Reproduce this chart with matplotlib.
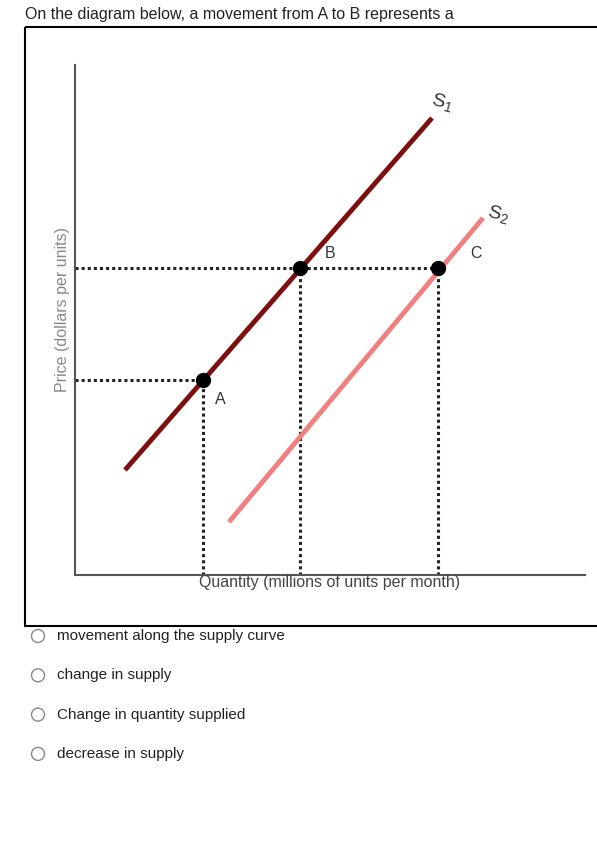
import matplotlib.pyplot as plt
from matplotlib.patches import Rectangle, Circle

plt.rcParams["font.family"] = ["Liberation Sans", "DejaVu Sans"]
plt.rcParams["mathtext.fontset"] = "custom"
plt.rcParams["mathtext.rm"] = "Liberation Sans"
plt.rcParams["mathtext.it"] = "Liberation Sans"

# diagram data (arbitrary quantity / price units)
s1_q = [50, 357]
s1_p = [105, 457]
s2_q = [154, 408]
s2_p = [53, 357]
points = {"A": (128, 195), "B": (225, 307), "C": (363, 307)}
question = "On the diagram below, a movement from A to B represents a"
options = ["movement along the supply curve", "change in supply",
           "Change in quantity supplied", "decrease in supply"]

W, H = 597, 842
fig = plt.figure(figsize=(W / 100, H / 100), dpi=100)

# page overlay in pixel coordinates
page = fig.add_axes([0, 0, 1, 1])
page.set_xlim(0, W)
page.set_ylim(H, 0)
page.axis("off")
page.text(25, 14, question, fontsize=11.5, va="center", ha="left", color="#222222")
page.add_patch(Rectangle((25, 27), 580, 599, fill=False, lw=1.5, ec="black"))
for i, opt in enumerate(options):
    y = 636 + i * 39.3
    page.add_patch(Circle((38, y), 6.5, fill=False, ec="#888888", lw=1))
    page.text(57, y, opt, fontsize=11, va="center", ha="left", color="#222222")

ax = fig.add_axes([75 / W, (H - 575) / H, 510 / W, 510 / H])
ax.set_xlim(0, 510)
ax.set_ylim(0, 510)
ax.set_xticks([])
ax.set_yticks([])
for side in ["top", "right"]:
    ax.spines[side].set_visible(False)
for side in ["left", "bottom"]:
    ax.spines[side].set_color("#555555")
    ax.spines[side].set_linewidth(1.5)

dot = dict(color="#222222", lw=2.2, ls=(0, (1, 1)))
ax.plot([0, points["C"][0]], [points["B"][1]] * 2, **dot)
ax.plot([0, points["A"][0]], [points["A"][1]] * 2, **dot)
for k in "ABC":
    q, p = points[k]
    ax.plot([q, q], [0, p], **dot)

ax.plot(s1_q, s1_p, color="#7d0f0f", lw=3.5, solid_capstyle="butt")
ax.plot(s2_q, s2_p, color="#f08080", lw=3.5, solid_capstyle="butt")
for k in "ABC":
    ax.plot(*points[k], "o", color="black", ms=10, zorder=5)

ax.text(145, 175, "A", fontsize=11.5, ha="center", va="center", color="#333333")
ax.text(255, 322, "B", fontsize=11.5, ha="center", va="center", color="#333333")
ax.text(401, 321, "C", fontsize=11.5, ha="center", va="center", color="#333333")
ax.text(367, 473, "$S_1$", fontsize=14, ha="center", va="center", color="#333333",
        rotation=-15)
ax.text(423, 361, "$S_2$", fontsize=14, ha="center", va="center", color="#333333",
        rotation=-15)

ax.text(255, -8, "Quantity (millions of units per month)", fontsize=11.5,
        ha="center", va="center", color="#444444")
ax.text(-13, 265, "Price (dollars per units)", fontsize=11.5, rotation=90,
        ha="center", va="center", color="#888888")

fig.savefig("out.png", dpi=100)
